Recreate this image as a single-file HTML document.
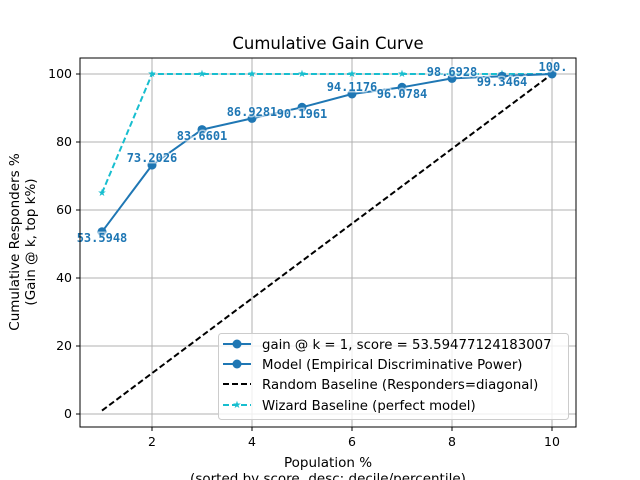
<!DOCTYPE html>
<html><head><meta charset="utf-8"><style>body{margin:0;background:#fff}svg{display:block}</style></head><body>
<svg width="640" height="480" xmlns="http://www.w3.org/2000/svg" font-family="DejaVu Sans, Liberation Sans, sans-serif">
<rect width="640" height="480" fill="#fff"/>
<g stroke="#b0b0b0" stroke-width="1">
<line x1="152" y1="58" x2="152" y2="427"/><line x1="252" y1="58" x2="252" y2="427"/><line x1="352" y1="58" x2="352" y2="427"/><line x1="452" y1="58" x2="452" y2="427"/><line x1="552" y1="58" x2="552" y2="427"/>
<line x1="80" y1="414" x2="576" y2="414"/><line x1="80" y1="346" x2="576" y2="346"/><line x1="80" y1="278" x2="576" y2="278"/><line x1="80" y1="210" x2="576" y2="210"/><line x1="80" y1="142" x2="576" y2="142"/><line x1="80" y1="74" x2="576" y2="74"/>
</g>
<polyline points="102,410.6 552,74" fill="none" stroke="#000" stroke-width="2" stroke-dasharray="6,3"/>
<polyline points="102,193 152,74 202,74 252,74 302,74 352,74 402,74 452,74 502,74 552,74" fill="none" stroke="#17becf" stroke-width="2" stroke-dasharray="6,3"/>
<g fill="#17becf" font-size="10" text-anchor="middle"><text x="102" y="196">★</text><text x="152" y="77">★</text><text x="202" y="77">★</text><text x="252" y="77">★</text><text x="302" y="77">★</text><text x="352" y="77">★</text><text x="402" y="77">★</text><text x="452" y="77">★</text><text x="502" y="77">★</text><text x="552" y="77">★</text></g>
<polyline points="102,231.8 152,165.1 202,129.6 252,118.4 302,107.3 352,94 402,87.3 452,78.4 502,76.2 552,74" fill="none" stroke="#1f77b4" stroke-width="2"/>
<g fill="#1f77b4"><circle cx="102" cy="231.8" r="4.5"/><circle cx="152" cy="165.1" r="4.5"/><circle cx="202" cy="129.6" r="4.5"/><circle cx="252" cy="118.4" r="4.5"/><circle cx="302" cy="107.3" r="4.5"/><circle cx="352" cy="94" r="4.5"/><circle cx="402" cy="87.3" r="4.5"/><circle cx="452" cy="78.4" r="4.5"/><circle cx="502" cy="76.2" r="4.5"/><circle cx="552" cy="74" r="4.5"/></g>
<g font-family="DejaVu Sans Mono, Liberation Mono, monospace" font-weight="bold" font-size="12" fill="#1f77b4" text-anchor="middle" stroke="rgba(255,255,255,0.6)" stroke-width="3" paint-order="stroke">
<text x="102" y="242">53.5948</text><text x="152" y="162">73.2026</text><text x="202" y="140">83.6601</text><text x="252" y="116">86.9281</text><text x="302" y="118">90.1961</text><text x="352" y="91">94.1176</text><text x="402" y="98">96.0784</text><text x="452" y="76">98.6928</text><text x="502" y="86">99.3464</text><text x="553" y="71">100.</text>
</g>
<rect x="80" y="58" width="496" height="369" fill="none" stroke="#000" stroke-width="1"/>
<g stroke="#000" stroke-width="1">
<line x1="152" y1="427" x2="152" y2="431"/><line x1="252" y1="427" x2="252" y2="431"/><line x1="352" y1="427" x2="352" y2="431"/><line x1="452" y1="427" x2="452" y2="431"/><line x1="552" y1="427" x2="552" y2="431"/>
<line x1="76" y1="414" x2="80" y2="414"/><line x1="76" y1="346" x2="80" y2="346"/><line x1="76" y1="278" x2="80" y2="278"/><line x1="76" y1="210" x2="80" y2="210"/><line x1="76" y1="142" x2="80" y2="142"/><line x1="76" y1="74" x2="80" y2="74"/>
</g>
<g font-size="12.5" fill="#000" text-anchor="middle">
<text x="152" y="446">2</text><text x="252" y="446">4</text><text x="352" y="446">6</text><text x="452" y="446">8</text><text x="552" y="446">10</text>
</g>
<g font-size="12.5" fill="#000" text-anchor="end">
<text x="72" y="418">0</text><text x="72" y="350">20</text><text x="72" y="282">40</text><text x="72" y="214">60</text><text x="72" y="146">80</text><text x="72" y="78">100</text>
</g>
<text x="328" y="49" font-size="16.5" text-anchor="middle">Cumulative Gain Curve</text>
<text x="328" y="467" font-size="13.5" text-anchor="middle">Population %</text>
<text x="328" y="483" font-size="13.5" text-anchor="middle">(sorted by score, desc; decile/percentile)</text>
<text transform="translate(19,242) rotate(-90)" font-size="13.5" text-anchor="middle">Cumulative Responders %</text>
<text transform="translate(35,242) rotate(-90)" font-size="13.5" text-anchor="middle">(Gain @ k, top k%)</text>
<rect x="218.5" y="333.5" width="350" height="86" rx="3" fill="#fff" fill-opacity="0.8" stroke="#ccc"/>
<g stroke-width="2">
<line x1="223" y1="344" x2="251" y2="344" stroke="#1f77b4"/><circle cx="237" cy="344" r="4.5" fill="#1f77b4"/>
<line x1="223" y1="364" x2="251" y2="364" stroke="#1f77b4"/><circle cx="237" cy="364" r="4.5" fill="#1f77b4"/>
<line x1="223" y1="384" x2="251" y2="384" stroke="#000" stroke-dasharray="6,3"/>
<line x1="223" y1="405" x2="251" y2="405" stroke="#17becf" stroke-dasharray="6,3"/>
</g>
<text x="237" y="408" font-size="10" fill="#17becf" text-anchor="middle">★</text>
<g font-size="13.3" fill="#000">
<text x="262" y="349">gain @ k = 1, score = 53.59477124183007</text>
<text x="262" y="369">Model (Empirical Discriminative Power)</text>
<text x="262" y="389">Random Baseline (Responders=diagonal)</text>
<text x="262" y="410">Wizard Baseline (perfect model)</text>
</g>
</svg>
</body></html>
